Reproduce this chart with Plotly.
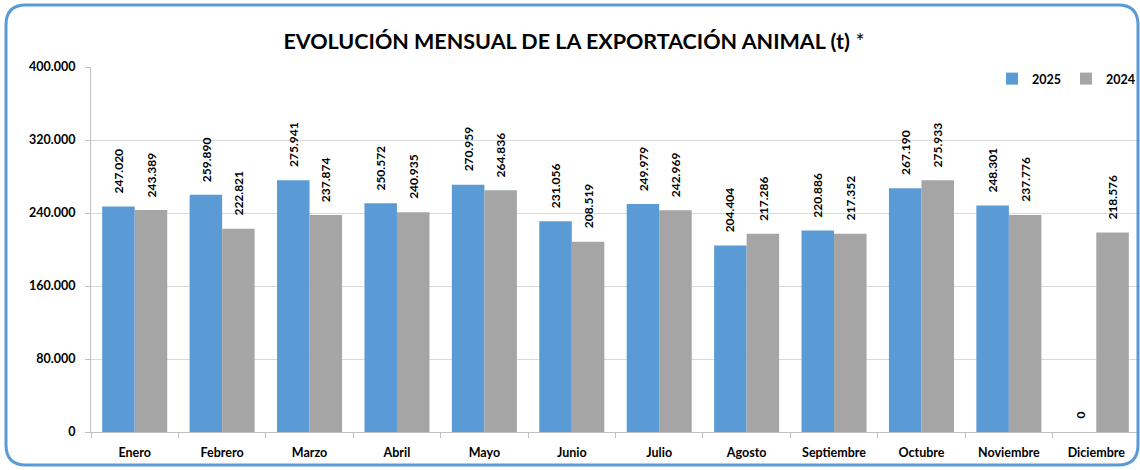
import plotly.graph_objects as go

months = ["Enero", "Febrero", "Marzo", "Abril", "Mayo", "Junio", "Julio",
          "Agosto", "Septiembre", "Octubre", "Noviembre", "Diciembre"]
v2025 = [247020, 259890, 275941, 250572, 270959, 231056, 249979,
         204404, 220886, 267190, 248301, 0]
v2024 = [243389, 222821, 237874, 240935, 264836, 208519, 242969,
         217286, 217352, 275933, 237776, 218576]
y_ticks = [0, 80000, 160000, 240000, 320000, 400000]

W, H = 1140, 470
L, R, T, B = 91, 0, 67, 38
PW, PH = W - L - R, H - T - B

def px(x):
    return (x - L) / PW

def py(y):
    return (H - B - y) / PH

FONT = "Lato, 'Open Sans', sans-serif"
BLUE = "#5B9BD5"
GRAY = "#A5A5A5"

def fmt(v):
    return f"{v:,}".replace(",", ".")

fig = go.Figure()
fig.add_trace(go.Bar(name="2025", x=months, y=v2025, marker=dict(color=BLUE, line=dict(width=0))))
fig.add_trace(go.Bar(name="2024", x=months, y=v2024, marker=dict(color=GRAY, line=dict(width=0))))

shift = PW / 12 * (1 - 0.256) / 4
annotations = []
for m, a, b in zip(months, v2025, v2024):
    for val, xs in ((a, -shift), (b, shift)):
        annotations.append(dict(x=m, y=val, xref="x", yref="y", text=fmt(val),
                                textangle=-90, showarrow=False, yanchor="bottom",
                                xanchor="center", xshift=xs, yshift=11,
                                font=dict(family=FONT, size=12, color="#000000", weight="bold")))

# rounded border
x0, x1, y0, y1, r = 6, 1138, 5, 465, 20
path = (f"M {px(x0+r)},{py(y0)} L {px(x1-r)},{py(y0)} Q {px(x1)},{py(y0)} {px(x1)},{py(y0+r)} "
        f"L {px(x1)},{py(y1-r)} Q {px(x1)},{py(y1)} {px(x1-r)},{py(y1)} "
        f"L {px(x0+r)},{py(y1)} Q {px(x0)},{py(y1)} {px(x0)},{py(y1-r)} "
        f"L {px(x0)},{py(y0+r)} Q {px(x0)},{py(y0)} {px(x0+r)},{py(y0)} Z")

fig.update_layout(
    width=W, height=H,
    margin=dict(l=L, r=R, t=T, b=B),
    paper_bgcolor="white", plot_bgcolor="white",
    separators=",.",
    barmode="group", bargap=0.256, bargroupgap=0,
    title=dict(text="<b>EVOLUCIÓN MENSUAL DE LA EXPORTACIÓN ANIMAL (t)</b> *",
               xref="container", yref="container", x=574 / W, y=1 - 41 / H,
               xanchor="center", yanchor="middle",
               font=dict(family=FONT, size=21.5, color="#000000")),
    legend=dict(orientation="h", x=px(1140), xanchor="right", y=py(79), yanchor="middle",
                itemwidth=30, font=dict(family=FONT, size=12.5, color="#000000", weight="bold"),
                bgcolor="rgba(0,0,0,0)"),
    xaxis=dict(showline=True, linecolor="#BFBFBF", linewidth=1, ticks="outside",
               tickson="boundaries", ticklen=5, tickcolor="#BFBFBF", ticklabelstandoff=9,
               tickfont=dict(family=FONT, size=12.5, color="#000000", weight="bold")),
    yaxis=dict(range=[0, 400000], tickvals=y_ticks, tickformat=",.0f",
               showline=True, linecolor="#BFBFBF", linewidth=1, ticks="outside",
               ticklen=5, tickcolor="#BFBFBF", showgrid=True, gridcolor="#D9D9D9",
               zeroline=False, ticklabelstandoff=7,
               tickfont=dict(family=FONT, size=12.5, color="#000000", weight="bold")),
    annotations=annotations,
    shapes=[dict(type="path", path=path, xref="paper", yref="paper",
                 line=dict(color=BLUE, width=3), layer="above")],
)

fig.write_html("out.html", config={"displayModeBar": False},
               post_script="document.body.style.margin='0';document.body.style.overflow='hidden';")
